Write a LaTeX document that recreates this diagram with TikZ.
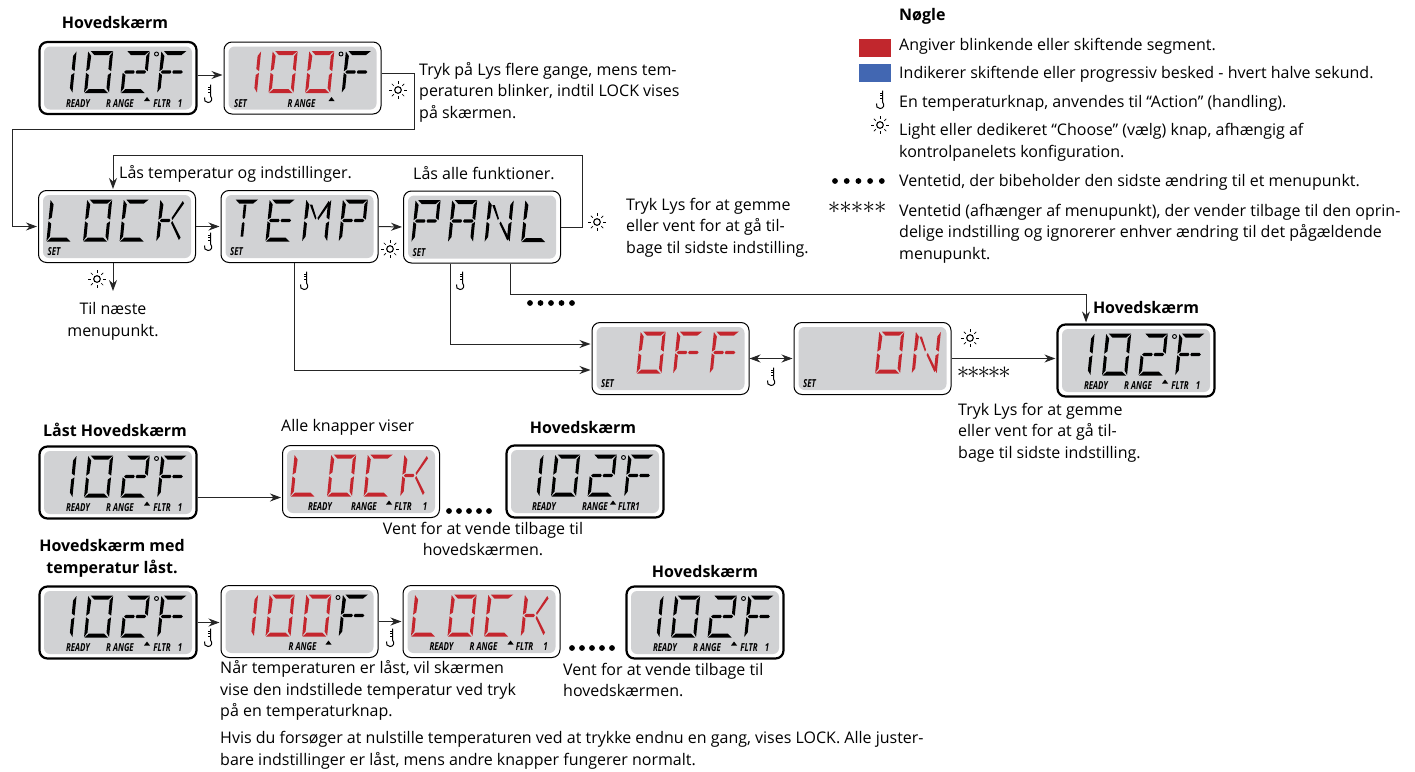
\documentclass[tikz,border=0pt]{standalone}
\usepackage{fontspec}
\setmainfont{Open Sans}
\newfontfamily\lcdfont[FakeStretch=0.72]{Open Sans}
\usetikzlibrary{arrows.meta}

\definecolor{lcdgrey}{RGB}{209,210,212}
\definecolor{lcdred}{RGB}{196,38,46}
\definecolor{keyblue}{RGB}{66,103,178}
\definecolor{keyred}{RGB}{193,39,45}

\tikzset{
    >={Stealth[length=11pt,width=8pt]},
    conn/.style={line width=1pt,draw=black!85,shorten >=1pt},
    lcdthin/.style={draw,line width=1pt,rounded corners=8pt,fill=white,minimum width=157pt,minimum height=72pt,inner sep=0pt},
    lcdthick/.style={lcdthin,line width=2.2pt},
    lcdscreen/.style={fill=lcdgrey,rounded corners=6pt,minimum width=148pt,minimum height=63pt,inner sep=0pt},
    lcdtag/.style={font=\lcdfont\fontsize{11}{11}\selectfont\bfseries\itshape,inner sep=0pt},
    note/.style={font=\fontsize{16}{21.5}\selectfont,align=left,anchor=west,inner sep=0pt},
    title/.style={note,font=\fontsize{16}{21.5}\selectfont\bfseries,align=center,anchor=center},
    pics/sunicon/.style={code={
        \draw[line width=1.1pt] (0,0) circle (3.3);
        \foreach \a in {0,45,...,315} \draw[line width=0.7pt] (\a:6) -- (\a:8.8);
    }},
    pics/tempicon/.style={code={
        \draw[line width=1pt] (2.5,-8.5) -- (2.5,3) .. controls (5,6) and (3.5,9.5) .. (0,9.5) .. controls (-3,9.5) and (-4,7) .. (-3.5,4.5);
        \foreach \t in {-5.5,-3.3,-1.1} \draw[line width=0.7pt] (2.5,\t) -- (-0.2,\t);
    }},
    pics/waitdots/.style={code={
        \foreach \d in {0,...,4} \fill (#1*\d,0) circle (2.9);
    }},
    pics/waitstars/.style={code={
        \foreach \d in {0,...,4} \node[inner sep=0pt,font=\fontsize{23}{23}\selectfont] (star#1\d) at (#1*\d,0) {$\ast$};
    }},
}

\newcommand{\defseg}[2]{\expandafter\def\csname seg#1\endcsname{#2 -- cycle}}
\defseg{a}{(2.5,-21) -- (25,-21) -- (20.5,-17) -- (6.5,-17)}
\defseg{d}{(0.5,21) -- (24,21) -- (19.5,17) -- (4.5,17)}
\defseg{f}{(0,-20.5) -- (3.5,-16) -- (3,-3) -- (0,-0.8)}
\defseg{e}{(0,0.8) -- (3,3) -- (3,16) -- (0,20.5)}
\defseg{b}{(25,-20.5) -- (22,-16) -- (22,-3) -- (25,-0.8)}
\defseg{c}{(25,0.8) -- (22,3) -- (22,16) -- (25,20.5)}
\defseg{g}{(3,-1.6) -- (11,-1.6) -- (12,0) -- (11,1.6) -- (3,1.6) -- (1.5,0)}
\defseg{h}{(14,-1.6) -- (22,-1.6) -- (23.5,0) -- (22,1.6) -- (14,1.6) -- (13,0)}
\defseg{j}{(11.2,-16) -- (13.8,-16) -- (13.8,-3) -- (12.5,-1.5) -- (11.2,-3)}
\defseg{k}{(11.2,16) -- (13.8,16) -- (13.8,3) -- (12.5,1.5) -- (11.2,3)}
\defseg{p}{(4,-16) -- (6.5,-16) -- (12,-2.5) -- (11,-1)}
\defseg{q}{(22.5,-19.5) -- (24,-17) -- (14,-0.5) -- (13,-2.5)}
\defseg{r}{(13,2.5) -- (14,0.5) -- (24,17) -- (22.5,19.5)}

\newcommand{\defglyph}[2]{\expandafter\def\csname glyph#1\endcsname{#2}}
\defglyph{0}{a,b,c,d,e,f}
\defglyph{1}{b,c}
\defglyph{2}{a,b,g,h,e,d}
\defglyph{F}{a,e,f,g,h}
\defglyph{L}{e,f,d}
\defglyph{O}{a,b,c,d,e,f}
\defglyph{C}{a,d,e,f}
\defglyph{K}{e,f,g,q,r}
\defglyph{T}{a,j,k}
\defglyph{E}{a,d,e,f,g,h}
\defglyph{M}{e,f,b,c,p,q}
\defglyph{P}{a,b,e,f,g,h}
\defglyph{A}{a,b,c,e,f,g,h}
\defglyph{N}{e,f,b,c,p,r}

\newcommand{\lcdbox}[4][lcdthin]{\node[#1] (#2) at (#3,#4) {}; \node[lcdscreen] (#2s) at (#2) {};}
\newcommand{\lcdword}[4]{\foreach \ch [count=\n from #3] in {#4} {
    \edef\glyphsegs{\csname glyph\ch\endcsname}
    \begin{scope}[shift={(#1.center)},shift={(-68.5+36.6*\n,-6)},xslant=0.1]
        \foreach \sg in \glyphsegs {\expandafter\let\expandafter\segpath\csname seg\sg\endcsname \fill[#2] \segpath;}
    \end{scope}}}
\newcommand{\lcddeg}[1]{\draw[line width=0.9pt,shift={(#1.center)}] (38.5,-24) circle (2);}
\newcommand{\lcdtags}[2]{\foreach \dx/\lbl in {#2} \node[lcdtag] (#1-\dx) at ([shift={(\dx,25.5)}]#1.center) {\lbl};}
\newcommand{\lcdmark}[2]{\fill[shift={(#1.center)}] (#2-3,23) -- (#2+3,23) -- (#2,19) -- cycle;}

\begin{document}
\begin{tikzpicture}[x=1pt,y=-1pt]
    \useasboundingbox (0,0) rectangle (1415,771);

    \lcdbox[lcdthick]{mainA}{118}{78}
    \lcdword{mainA}{black}{0}{1,0,2,F} \lcddeg{mainA}
    \lcdtags{mainA}{-40/READY,2/R ANGE,44/FLTR,62/1} \lcdmark{mainA}{29}
    \lcdbox{blinkA}{302.5}{78}
    \lcdword{blinkA}{lcdred}{0}{1,0,0} \lcdword{blinkA}{black}{3}{F} \lcddeg{blinkA}
    \lcdtags{blinkA}{-62/SET,-1/R ANGE} \lcdmark{blinkA}{29}

    \lcdbox{lock}{117}{226.5}
    \lcdword{lock}{black}{0}{L,O,C,K} \lcdtags{lock}{-63/SET}
    \lcdbox{temp}{299.5}{226.5}
    \lcdword{temp}{black}{0}{T,E,M,P} \lcdtags{temp}{-63/SET}
    \lcdbox{panl}{482}{227}
    \lcdword{panl}{black}{0}{P,A,N,L} \lcdtags{panl}{-63/SET}

    \lcdbox{off}{670.5}{358.5}
    \lcdword{off}{lcdred}{1}{O,F,F} \lcdtags{off}{-63/SET}
    \lcdbox{on}{872.5}{358.5}
    \lcdword{on}{lcdred}{2}{O,N} \lcdtags{on}{-63/SET}
    \lcdbox[lcdthick]{mainB}{1136}{360.5}
    \lcdword{mainB}{black}{0}{1,0,2,F} \lcddeg{mainB}
    \lcdtags{mainB}{-40/READY,2/R ANGE,44/FLTR,62/1} \lcdmark{mainB}{29}

    \lcdbox[lcdthick]{lockedA}{118}{482.5}
    \lcdword{lockedA}{black}{0}{1,0,2,F} \lcddeg{lockedA}
    \lcdtags{lockedA}{-40/READY,2/R ANGE,44/FLTR,62/1} \lcdmark{lockedA}{29}
    \lcdbox{lockB}{361}{481.5}
    \lcdword{lockB}{lcdred}{0}{L,O,C,K}
    \lcdtags{lockB}{-41/READY,3/RANGE,42/FLTR,64/1} \lcdmark{lockB}{28}
    \lcdbox[lcdthick]{mainC}{585}{481.5}
    \lcdword{mainC}{black}{0}{1,0,2,F} \lcddeg{mainC}
    \lcdtags{mainC}{-41/READY,10/RANGE,44/FLTR1} \lcdmark{mainC}{28}

    \lcdbox[lcdthick]{lockedB}{118}{622.5}
    \lcdword{lockedB}{black}{0}{1,0,2,F} \lcddeg{lockedB}
    \lcdtags{lockedB}{-40/READY,2/R ANGE,44/FLTR,62/1} \lcdmark{lockedB}{29}
    \lcdbox{blinkB}{299.5}{621.5}
    \lcdword{blinkB}{lcdred}{0}{1,0,0} \lcdword{blinkB}{black}{3}{F} \lcddeg{blinkB}
    \lcdtags{blinkB}{3/R ANGE} \lcdmark{blinkB}{29}
    \lcdbox{lockC}{481.5}{621.5}
    \lcdword{lockC}{lcdred}{0}{L,O,C,K}
    \lcdtags{lockC}{-40/READY,2/R ANGE,43/FLTR,64/1} \lcdmark{lockC}{29}
    \lcdbox[lcdthick]{mainD}{705}{622.5}
    \lcdword{mainD}{black}{0}{1,0,2,F} \lcddeg{mainD}
    \lcdtags{mainD}{-40/READY,2/R ANGE,44/FLTR,62/1} \lcdmark{mainD}{29}

    \coordinate (nextitem) at (113,292);
    \draw[conn,->] ([yshift=3pt]mainA.east) -- ([yshift=3pt]mainA.east -| blinkA.west);
    \draw[conn,->] ([yshift=5pt]blinkA.east) -- ++(33,0) -- ++(0,56) -- ++(-402,0) |- (lock.west);
    \draw[conn,->] (lock.east) -- (temp.west);
    \draw[conn,->] (temp.east) -- (panl.west);
    \draw[conn,->] (panl.east) -- ++(21,0) -- ++(0,-72) -| ([xshift=-4pt]lock.north);
    \draw[conn,->] ([xshift=-4pt]lock.south) -- (nextitem);
    \draw[conn,->] ([xshift=-5.5pt]temp.south) |- ([yshift=-11.5pt]off.west);
    \draw[conn,->] ([xshift=-32pt]panl.south) |- ([yshift=14.5pt]off.west);
    \draw[conn,->] ([xshift=28pt]panl.south) -- ++(0,31) -| ([xshift=-50pt]mainB.north);
    \draw[conn,<->] (off.east) -- (on.west);
    \draw[conn,->] (on.east) -- (on.east -| mainB.west);
    \draw[conn,->] ([yshift=-15pt]lockedA.east) -- ([yshift=-15pt]lockedA.east -| lockB.west);
    \draw[conn,->] (lockedB.east) -- (lockedB.east -| blinkB.west);
    \draw[conn,->] (blinkB.east) -- (lockC.west);

    \foreach \x/\y in {208/93,390/637,208/637,208/241,304/280,460/280,771/376,880/99} \pic at (\x,\y) {tempicon};
    \foreach \x/\y in {398/90,597/222,97/279,390/249,970/338,880/125} \pic at (\x,\y) {sunicon};
    \foreach \x/\y/\p in {530/303/10.5,449/511/10,572/648/10,835/181/11.7} \pic at (\x,\y) {waitdots=\p};
    \pic at (963,373) {waitstars=10.4};
    \pic at (834,208) {waitstars=11.6};

    \node[title] (hdA) at (115,22.5) {Hovedskærm};
    \node[title] (hdB) at (1146,307.5) {Hovedskærm};
    \node[title] (hdC) at (115,430) {Låst Hovedskærm};
    \node[title] (hdD) at (583,427.5) {Hovedskærm};
    \node[title] (hdE) at (112,558.5) {Hovedskærm med\\temperatur låst.};
    \node[title] (hdF) at (705,571.5) {Hovedskærm};

    \node[note] (txtA) at (419,92) {Tryk på Lys flere gange, mens tem-\\peraturen blinker, indtil LOCK vises\\på skærmen.};
    \node[note] (txtB) at (119,173.5) {Lås temperatur og indstillinger.};
    \node[note] (txtC) at (413,173.5) {Lås alle funktioner.};
    \node[note] (txtD) at (626,227.5) {Tryk Lys for at gemme\\eller vent for at gå til-\\bage til sidste indstilling.};
    \node[note,align=center,anchor=center] (txtE) at (113,321.5) {Til næste\\menupunkt.};
    \node[note] (txtF) at (958,432.5) {Tryk Lys for at gemme\\eller vent for at gå til-\\bage til sidste indstilling.};
    \node[note] (txtG) at (281,427) {Alle knapper viser};
    \node[note,align=center,anchor=center] (txtH) at (483,539) {Vent for at vende tilbage til\\hovedskærmen.};
    \node[note] (txtI) at (220,690.5) {Når temperaturen er låst, vil skærmen\\vise den indstillede temperatur ved tryk\\på en temperaturknap.};
    \node[note] (txtJ) at (563,680) {Vent for at vende tilbage til\\hovedskærmen.};
    \node[note] (txtK) at (220,750.5) {Hvis du forsøger at nulstille temperaturen ved at trykke endnu en gang, vises LOCK. Alle juster-\\bare indstillinger er låst, mens andre knapper fungerer normalt.};

    \node[note,font=\fontsize{16}{21.5}\selectfont\bfseries] (keyT) at (899,16.5) {Nøgle};
    \node[fill=keyred,minimum width=32pt,minimum height=18pt,inner sep=0pt] (keyR) at (875,48) {};
    \node[fill=keyblue,minimum width=32pt,minimum height=18pt,inner sep=0pt] (keyB) at (875,73) {};
    \node[note] (keyA) at (899,46.5) {Angiver blinkende eller skiftende segment.};
    \node[note] (keyC) at (899,74) {Indikerer skiftende eller progressiv besked - hvert halve sekund.};
    \node[note] (keyD) at (899,103.5) {En temperaturknap, anvendes til “Action” (handling).};
    \node[note] (keyE) at (899,142.5) {Light eller dedikeret “Choose” (vælg) knap, afhængig af\\kontrolpanelets konfiguration.};
    \node[note] (keyF) at (899,182) {Ventetid, der bibeholder den sidste ændring til et menupunkt.};
    \node[note] (keyG) at (899,233.5) {Ventetid (afhænger af menupunkt), der vender tilbage til den oprin-\\delige indstilling og ignorerer enhver ændring til det pågældende\\menupunkt.};
\end{tikzpicture}
\end{document}
